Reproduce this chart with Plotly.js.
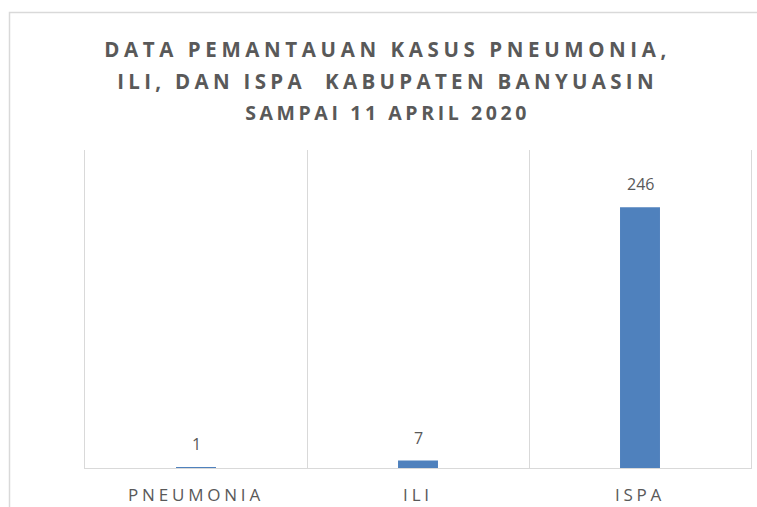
<!DOCTYPE html>
<html>
<head>
<meta charset="utf-8">
<script src="https://cdn.plot.ly/plotly-3.0.1.min.js"></script>
<style>
  html, body { margin: 0; padding: 0; background: #fff; }
  #chart { width: 757px; height: 507px; }
  .xtick text { letter-spacing: 3.8px; }
</style>
</head>
<body>
<div id="chart"></div>
<script>
const categories = ['PNEUMONIA', 'ILI', 'ISPA'];
const cases = [1, 7, 246];
const caseLabels = ['1', '7', '246'];
const titleLines = [
  'DATA PEMANTAUAN KASUS PNEUMONIA,',
  'ILI, DAN ISPA&nbsp; KABUPATEN BANYUASIN',
  'SAMPAI 11 APRIL 2020'
];

const FONT = '"Open Sans", "Noto Sans", sans-serif';
const GREY = '#595959';

const trace = {
  type: 'bar',
  x: categories,
  y: cases,
  marker: { color: '#4F81BD' },
  hoverinfo: 'none'
};

const annotations = categories.map((c, i) => ({
  x: c, y: cases[i], xref: 'x', yref: 'y',
  text: caseLabels[i], showarrow: false,
  yanchor: 'middle', yshift: 23,
  font: { family: FONT, size: 16, color: GREY }
}));

const titleText =
  '<span style="font-size:20.5px;letter-spacing:4.6px">' + titleLines[0] + '</span><br>' +
  '<span style="font-size:20.5px;letter-spacing:4.3px">' + titleLines[1] + '</span><br>' +
  '<span style="font-size:19.5px;letter-spacing:3.6px">' + titleLines[2] + '</span>';

const layout = {
  width: 757, height: 507,
  margin: { l: 85, r: 6, t: 150, b: 39 },
  paper_bgcolor: '#fff', plot_bgcolor: '#fff',
  showlegend: false,
  bargap: 0.82,
  title: {
    text: titleText,
    font: { family: FONT, size: 24.3, color: GREY, weight: 'bold' },
    xref: 'container', x: 0.512, xanchor: 'center',
    yref: 'container', y: 1 - 57 / 507, yanchor: 'top'
  },
  xaxis: {
    type: 'category',
    range: [-0.5, 2.5],
    tickson: 'boundaries',
    showgrid: true, gridcolor: '#d9d9d9', gridwidth: 1,
    showline: true, linecolor: '#d9d9d9', linewidth: 1,
    ticks: '',
    ticklabelstandoff: 12,
    tickfont: { family: FONT, size: 17, color: GREY },
    fixedrange: true
  },
  yaxis: {
    range: [0, 300],
    showgrid: false, zeroline: false, showticklabels: false,
    showline: true, mirror: true, linecolor: '#d9d9d9', linewidth: 1,
    ticks: '', fixedrange: true
  },
  annotations: annotations,
  shapes: [{
    type: 'rect', xref: 'paper', yref: 'paper',
    x0: (9.5 - 85) / 666, x1: 1.2,
    y0: -0.5, y1: (468 - 12.5) / 318,
    line: { color: '#d9d9d9', width: 1.5 },
    fillcolor: 'rgba(0,0,0,0)', layer: 'below'
  }]
};

Plotly.newPlot('chart', [trace], layout, { displayModeBar: false, staticPlot: true });
</script>
</body>
</html>
